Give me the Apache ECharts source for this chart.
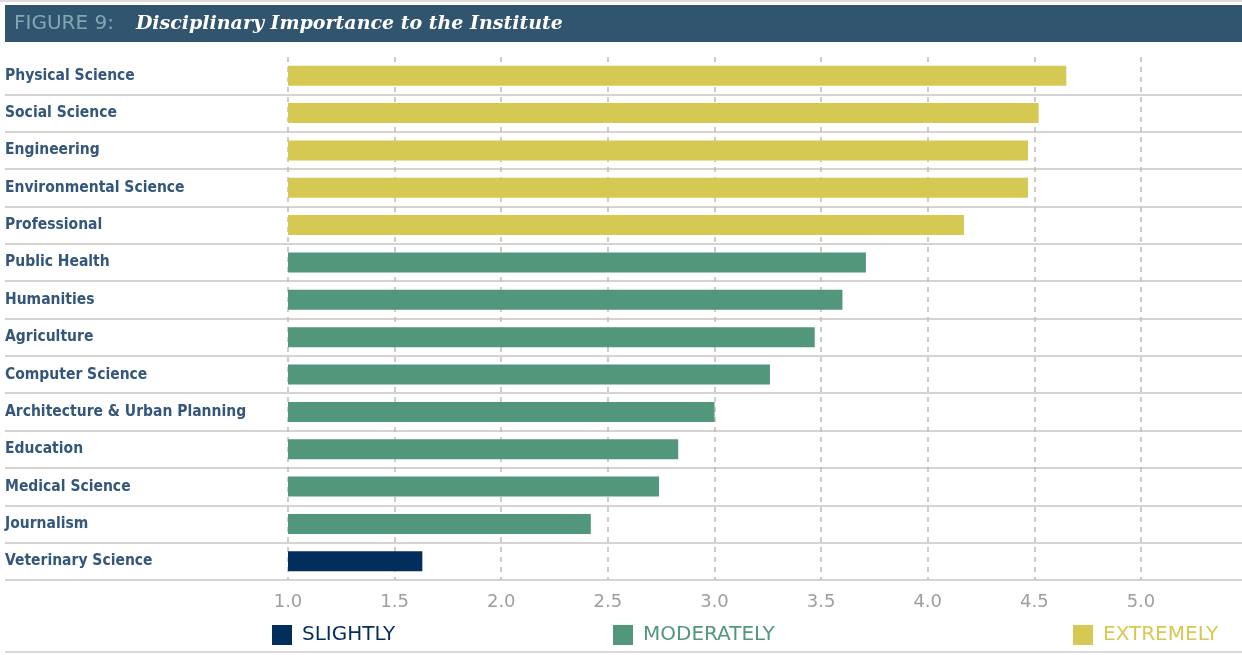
<!DOCTYPE html>
<html>
<head>
<meta charset="utf-8">
<title>Disciplinary Importance to the Institute</title>
<script src="https://cdn.jsdelivr.net/npm/echarts@6/dist/echarts.min.js"></script>
<style>
  html, body { margin: 0; padding: 0; background: #ffffff; }
  #chart { width: 1242px; height: 655px; }
</style>
</head>
<body>
<div id="chart"></div>
<script>
// Disciplines, top to bottom
const categories = [
  'Physical Science', 'Social Science', 'Engineering', 'Environmental Science',
  'Professional', 'Public Health', 'Humanities', 'Agriculture', 'Computer Science',
  'Architecture & Urban Planning', 'Education', 'Medical Science', 'Journalism',
  'Veterinary Science'
];
// Mean importance rating (1 = not at all ... 5)
const scores = [4.65, 4.52, 4.47, 4.47, 4.17, 3.71, 3.60, 3.47, 3.26, 3.00, 2.83, 2.74, 2.42, 1.63];
// Rating band each discipline falls in
const levels = ['EXTREMELY', 'EXTREMELY', 'EXTREMELY', 'EXTREMELY', 'EXTREMELY',
  'MODERATELY', 'MODERATELY', 'MODERATELY', 'MODERATELY', 'MODERATELY',
  'MODERATELY', 'MODERATELY', 'MODERATELY', 'SLIGHTLY'];
const levelNames = ['SLIGHTLY', 'MODERATELY', 'EXTREMELY'];
const levelColors = ['#022d5c', '#52967b', '#d5c853'];
const tickValues = [1.0, 1.5, 2.0, 2.5, 3.0, 3.5, 4.0, 4.5, 5.0];

const chart = echarts.init(document.getElementById('chart'), null, { renderer: 'canvas' });

const labelFont = '"DejaVu Sans Condensed", "Liberation Sans Narrow", sans-serif';
const wideFont = '"DejaVu Sans", Verdana, sans-serif';

const series = levelNames.map((name, k) => ({
  name: name,
  type: 'bar',
  xAxisIndex: 1,
  yAxisIndex: 1,
  barWidth: 20,
  barGap: '-100%',
  itemStyle: { color: levelColors[k] },
  data: scores.map((v, i) => (levels[i] === name ? v : '-')),
  silent: true
}));

const legendLefts = [272, 613, 1073];
const legends = levelNames.map((name, k) => ({
  left: legendLefts[k],
  top: 625,
  padding: 0,
  itemWidth: 20,
  itemHeight: 20,
  itemGap: 0,
  icon: 'rect',
  selectedMode: false,
  textStyle: { fontFamily: wideFont, fontSize: 20, padding: [0, 0, 0, 5] },
  data: [{ name: name, textStyle: { color: levelColors[k] } }]
}));

const option = {
  animation: false,
  backgroundColor: '#ffffff',
  title: {
    left: 14,
    top: 14,
    padding: 0,
    text: '{a|FIGURE 9:}{b|Disciplinary Importance to the Institute}',
    textStyle: {
      fontWeight: 'normal',
      rich: {
        a: { fontFamily: wideFont, fontWeight: 'normal', fontSize: 20, color: '#7fa9b1' },
        b: { fontFamily: '"DejaVu Serif", serif', fontStyle: 'italic', fontWeight: 'bold', fontSize: 19, color: '#ffffff', padding: [0, 0, 0, 22] }
      }
    },
    z: 10
  },
  graphic: [
    { type: 'rect', left: 5, top: 5, shape: { width: 1237, height: 37 }, style: { fill: '#31546f' }, z: -1 },
    { type: 'line', shape: { x1: 0, y1: 1, x2: 1242, y2: 1 }, style: { stroke: '#d3d0d0', lineWidth: 1.5 } },
    { type: 'line', shape: { x1: 5, y1: 652, x2: 1242, y2: 652 }, style: { stroke: '#cfcbcb', lineWidth: 1.5 } }
  ],
  legend: legends,
  grid: [
    // full-width rows carrying the labels and row rules
    { left: 5, right: 0, top: 57, height: 523, outerBoundsMode: 'none' },
    // value area for the bars
    { left: 288, top: 57, height: 523, width: 959.6, outerBoundsMode: 'none' }
  ],
  xAxis: [
    { gridIndex: 0, type: 'value', min: 0, max: 1, show: false },
    {
      gridIndex: 1,
      type: 'value',
      min: 1,
      max: 5.5,
      interval: 0.5,
      axisLine: { show: false },
      axisTick: { show: false },
      axisLabel: {
        showMaxLabel: false,
        margin: 13,
        fontFamily: wideFont,
        fontSize: 18,
        color: '#a29d9d',
        formatter: v => (tickValues.indexOf(v) >= 0 ? v.toFixed(1) : '')
      },
      splitLine: { show: true, lineStyle: { color: '#bfbbbb', width: 1.5, type: [5, 5] } }
    }
  ],
  yAxis: [
    {
      gridIndex: 0,
      type: 'category',
      inverse: true,
      data: categories,
      axisLine: { show: false },
      axisTick: { show: false },
      axisLabel: {
        inside: true,
        margin: 0,
        fontFamily: labelFont,
        fontWeight: 'bold',
        fontSize: 15.5,
        color: '#33567a'
      },
      splitLine: {
        show: true,
        interval: (idx) => idx !== 0,
        lineStyle: { color: '#c9c5c5', width: 1.5 }
      }
    },
    {
      gridIndex: 1,
      type: 'category',
      inverse: true,
      data: categories,
      show: false
    }
  ],
  series: series
};

chart.setOption(option);
</script>
</body>
</html>
